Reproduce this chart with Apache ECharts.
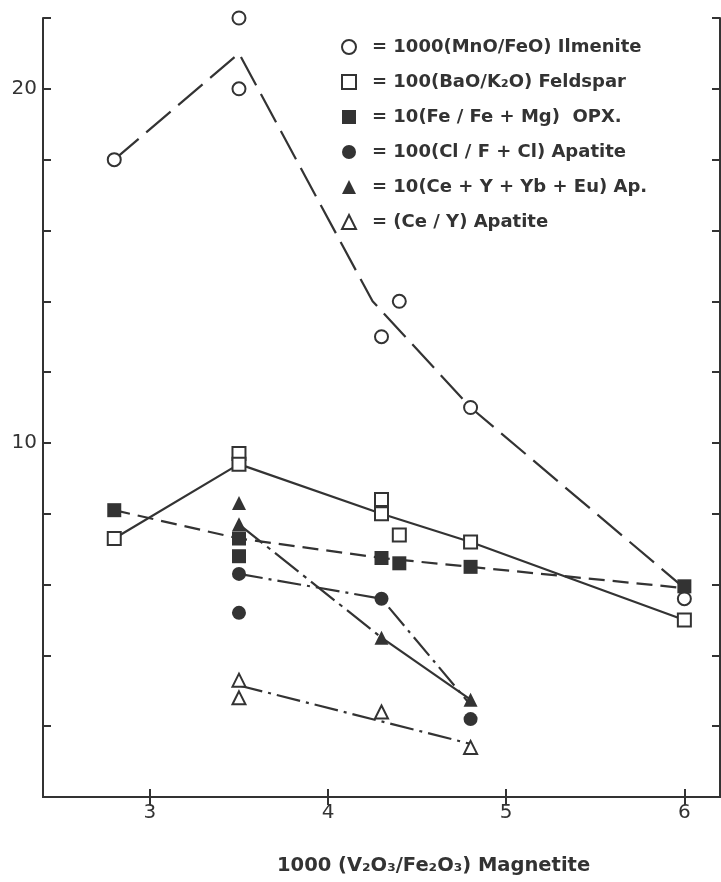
<!DOCTYPE html>
<html><head><meta charset="utf-8">
<script src="https://cdn.jsdelivr.net/npm/echarts@6/dist/echarts.min.js"></script>
<style>html,body{margin:0;padding:0;background:#fff}#c{width:721px;height:882px}</style>
</head><body><div id="c"></div>
<script>
// ---- data ----
const xTicks = [3, 4, 5, 6];
const yTickLabels = [10, 20];
const xTitle = '1000 (V₂O₃/Fe₂O₃) Magnetite';

const nameIlm = '= 1000(MnO/FeO) Ilmenite';
const nameFsp = '= 100(BaO/K₂O) Feldspar';
const nameOpx = '= 10(Fe / Fe + Mg)  OPX.';
const nameCl  = '= 100(Cl / F + Cl) Apatite';
const nameRee = '= 10(Ce + Y + Yb + Eu) Ap.';
const nameCeY = '= (Ce / Y) Apatite';

const ilmenitePts = [[2.8,18],[3.5,22],[3.5,20],[4.3,13],[4.4,14],[4.8,11],[6.0,5.6]];
const ilmeniteLine = [[2.8,18],[3.5,21],[4.25,14],[4.8,11],[6.0,5.9]];

const feldsparPts = [[2.8,7.3],[3.5,9.7],[3.5,9.4],[4.3,8.4],[4.3,8.0],[4.4,7.4],[4.8,7.2],[6.0,5.0]];
const feldsparLine = [[2.8,7.3],[3.5,9.4],[4.3,8.0],[4.8,7.2],[6.0,5.0]];

const opxPts = [[2.8,8.1],[3.5,7.3],[3.5,6.8],[4.3,6.75],[4.4,6.6],[4.8,6.5],[6.0,5.95]];
const opxLine = [[2.8,8.1],[3.5,7.3],[4.3,6.75],[4.8,6.5],[6.0,5.9]];

const clPts = [[3.5,6.3],[3.5,5.2],[4.3,5.6],[4.8,2.2]];
const clLine = [[3.5,6.3],[4.3,5.6],[4.8,2.6]];

const reePts = [[3.5,8.3],[3.5,7.7],[4.3,4.5],[4.8,2.75]];
const reeLineA = [[3.5,7.7],[4.3,4.5]];
const reeLineB = [[4.3,4.5],[4.8,2.75]];

const ceyPts = [[3.5,3.3],[3.5,2.8],[4.3,2.4],[4.8,1.4]];
const ceyLine = [[3.5,3.15],[4.8,1.5]];

// ---- chart ----
const ink = '#333';
const FONT = 'DejaVu Sans';
const chart = echarts.init(document.getElementById('c'), null, {renderer: 'canvas'});

function pts(name, data, symbol, filled, size) {
  return {
    name, type: 'scatter', data, symbol, symbolSize: size, clip: false, z: 5,
    itemStyle: filled ? {color: ink, borderColor: ink, borderWidth: 0, opacity: 1}
                      : {color: '#fff', borderColor: ink, borderWidth: 2, opacity: 1},
    emphasis: {disabled: true}
  };
}
function line(name, data, type) {
  return {
    name, type: 'line', data, symbol: 'none', z: 3, clip: false,
    lineStyle: {color: ink, width: 2.2, type},
    emphasis: {disabled: true}
  };
}

const axisCommon = {
  type: 'value',
  axisLine: {show: true, lineStyle: {color: ink, width: 2}},
  splitLine: {show: false},
};

chart.setOption({
  animation: false,
  backgroundColor: '#fff',
  title: {
    text: xTitle, left: 272, top: 851,
    textStyle: {fontFamily: FONT, fontSize: 19.5, fontWeight: 'bold', color: ink}
  },
  grid: {left: 43, right: 1, top: 18, bottom: 85, containLabel: false},
  legend: {
    data: [nameIlm, nameFsp, nameOpx, nameCl, nameRee, nameCeY],
    orient: 'vertical', left: 336, top: 32,
    itemWidth: 14, itemHeight: 14, itemGap: 15,
    textStyle: {fontFamily: FONT, fontSize: 18, fontWeight: 'bold', color: ink, lineHeight: 20, padding: [0,0,0,11]},
    selectedMode: false
  },
  xAxis: [
    Object.assign({}, axisCommon, {
      min: 2.4, max: 6.2, position: 'bottom',
      axisTick: {show: true, inside: true, length: 8, lineStyle: {color: ink, width: 2}, customValues: xTicks},
      axisLabel: {show: true, customValues: xTicks, margin: 6, fontFamily: FONT, fontSize: 20, color: ink}
    }),
    Object.assign({}, axisCommon, {
      min: 2.4, max: 6.2, position: 'top',
      axisTick: {show: true, inside: true, length: 8, lineStyle: {color: ink, width: 2}, customValues: xTicks},
      axisLabel: {show: false}
    })
  ],
  yAxis: [
    Object.assign({}, axisCommon, {
      min: 0, max: 22, interval: 2, position: 'left',
      axisTick: {show: true, inside: true, length: 8, lineStyle: {color: ink, width: 2}},
      axisLabel: {show: true, margin: 6, fontFamily: FONT, fontSize: 20, color: ink,
        formatter: v => yTickLabels.includes(v) ? String(v) : ''}
    }),
    Object.assign({}, axisCommon, {
      min: 0, max: 22, interval: 2, position: 'right',
      axisTick: {show: true, inside: true, length: 8, lineStyle: {color: ink, width: 2}},
      axisLabel: {show: false}
    })
  ],
  series: [
    line('ilmTrend', ilmeniteLine, [32, 10]),
    line('fspTrend', feldsparLine, 'solid'),
    line('opxTrend', opxLine, [16, 8]),
    line('clTrend', clLine, [24, 6, 3, 6]),
    line('reeTrendA', reeLineA, [30, 6, 4, 6]),
    line('reeTrendB', reeLineB, 'solid'),
    line('ceyTrend', ceyLine, [24, 6, 3, 6]),
    pts(nameIlm, ilmenitePts, 'circle', false, 13),
    pts(nameFsp, feldsparPts, 'rect', false, 13),
    pts(nameOpx, opxPts, 'rect', true, 14),
    pts(nameCl, clPts, 'circle', true, 14),
    pts(nameRee, reePts, 'triangle', true, 14),
    pts(nameCeY, ceyPts, 'triangle', false, 13)
  ]
});
</script>
</body></html>
